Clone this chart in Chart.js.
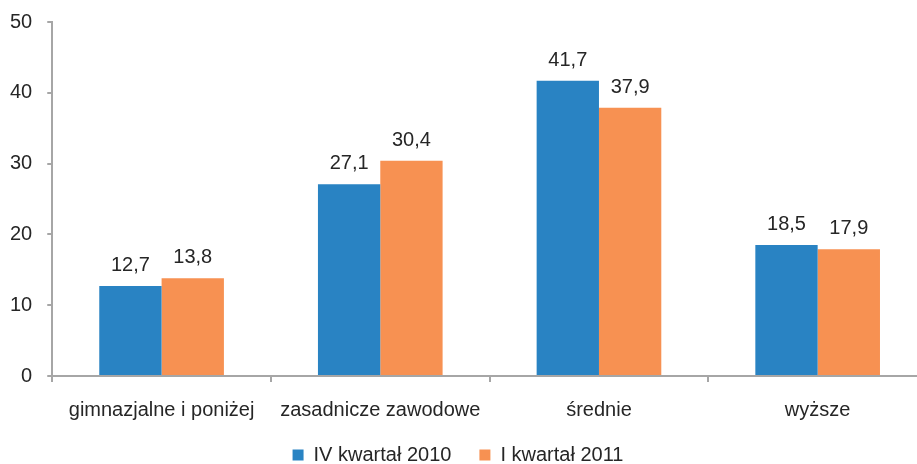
<!DOCTYPE html>
<html>
<head>
<meta charset="utf-8">
<script src="https://cdn.jsdelivr.net/npm/chart.js@4/dist/chart.umd.min.js"></script>
<style>
	html, body { margin: 0; padding: 0; background: #fff; overflow: hidden; }
	#wrap { width: 927px; height: 464px; position: relative; }
</style>
</head>
<body>
<div id="wrap"><canvas id="BarChart"></canvas></div>
<script>
const categories = ["gimnazjalne i poniżej", "zasadnicze zawodowe", "średnie", "wyższe"];
const seriesNames = ["IV kwartał 2010", "I kwartał 2011"];
const q4_2010 = [12.7, 27.1, 41.7, 18.5];
const q1_2011 = [13.8, 30.4, 37.9, 17.9];
const yTicks = [0, 10, 20, 30, 40, 50];

Chart.defaults.font.family = "'Liberation Sans', Arial, sans-serif";
Chart.defaults.font.size = 20;
Chart.defaults.color = "#262626";

// napisy nad słupkami, z przecinkiem dziesiętnym
const barLabels = {
	id: "barLabels",
	afterLayout(chart) {
		// legenda ma być wyśrodkowana na widocznej części (917px)
		chart.legend.left -= 3;
		chart.legend.right -= 3;
		chart.legend.top -= 21;
		chart.legend.bottom -= 21;
	},
	afterDatasetsDraw(chart) {
		const ctx = chart.ctx;
		ctx.save();
		ctx.font = "20px 'Liberation Sans', Arial, sans-serif";
		ctx.fillStyle = "#262626";
		ctx.textAlign = "center";
		ctx.textBaseline = "alphabetic";
		chart.data.datasets.forEach((ds, i) => {
			chart.getDatasetMeta(i).data.forEach((bar, j) => {
				ctx.fillText(ds.data[j].toFixed(1).replace(".", ","), bar.x, bar.y - 15);
			});
		});
		ctx.restore();
	},
};

const ctx1 = document.getElementById("BarChart");
const myChart1 = new Chart(ctx1, {
	type: "bar",
	data: {
		labels: categories,
		datasets: [
			{
				label: seriesNames[0],
				data: q4_2010,
				backgroundColor: "rgb(41, 131, 195)",
				categoryPercentage: 0.57,
				barPercentage: 1,
			},
			{
				label: seriesNames[1],
				data: q1_2011,
				backgroundColor: "rgb(247, 145, 82)",
				categoryPercentage: 0.57,
				barPercentage: 1,
			},
		],
	},
	options: {
		responsive: true,
		maintainAspectRatio: false,
		animation: false,
		layout: {
			padding: { top: 22, right: 0, left: -5, bottom: -32 },
		},
		plugins: {
			legend: {
				position: "bottom",
				labels: {
					boxWidth: 11,
					boxHeight: 11,
					padding: 28,
					font: { size: 20 },
				},
			},
			tooltip: { enabled: false },
		},
		scales: {
			x: {
				grid: {
					drawOnChartArea: false,
					drawTicks: true,
					tickLength: 6,
					color: "#a6a6a6",
					lineWidth: 2,
				},
				border: { color: "#a6a6a6", width: 2 },
				ticks: { padding: 16, maxRotation: 0 },
			},
			y: {
				min: yTicks[0],
				max: yTicks[yTicks.length - 1],
				afterBuildTicks(axis) {
					axis.ticks = yTicks.map((v) => ({ value: v }));
				},
				afterFit(axis) {
					axis.paddingTop = 0;
				},
				grid: {
					drawOnChartArea: false,
					drawTicks: true,
					tickLength: 5,
					color: "#a6a6a6",
					lineWidth: 2,
				},
				border: { color: "#a6a6a6", width: 2 },
				ticks: { padding: 15 },
			},
		},
	},
	plugins: [barLabels],
});
</script>
</body>
</html>
